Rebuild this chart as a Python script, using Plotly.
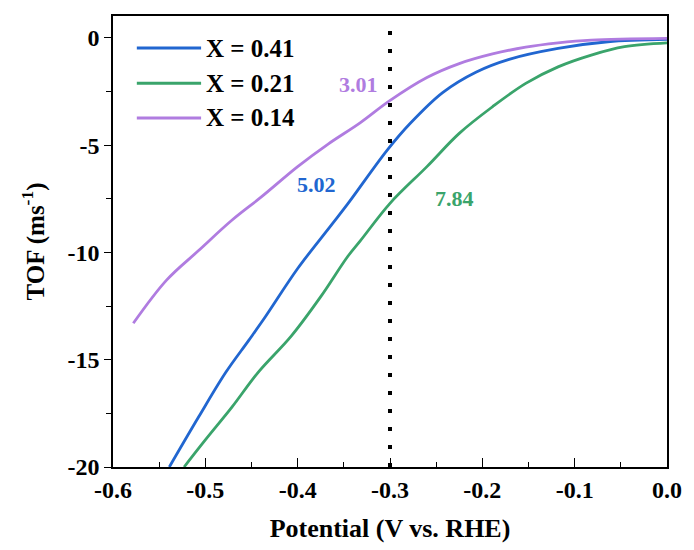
import plotly.graph_objects as go

# Data
x041 = [-0.539, -0.507, -0.478, -0.453, -0.435, -0.40, -0.364, -0.346, -0.303, -0.278, -0.243, -0.207, -0.171, -0.118, -0.064, 0.0]
y041 = [-20.0, -17.65, -15.6, -14.1, -13.0, -10.75, -8.75, -7.75, -5.23, -3.98, -2.55, -1.6, -1.0, -0.49, -0.18, -0.07]

x021 = [-0.523, -0.500, -0.471, -0.443, -0.407, -0.375, -0.346, -0.332, -0.300, -0.260, -0.225, -0.189, -0.153, -0.118, -0.082, -0.046, 0.0]
y021 = [-20.0, -18.74, -17.2, -15.6, -13.9, -12.06, -10.2, -9.45, -7.71, -6.0, -4.45, -3.21, -2.12, -1.35, -0.80, -0.41, -0.23]

x014 = [-0.578, -0.542, -0.507, -0.471, -0.439, -0.40, -0.367, -0.332, -0.301, -0.260, -0.225, -0.189, -0.153, -0.118, -0.082, 0.0]
y014 = [-13.3, -11.29, -9.9, -8.49, -7.4, -6.0, -4.95, -3.95, -2.95, -1.85, -1.2, -0.75, -0.43, -0.23, -0.10, -0.02]

names = ["X = 0.41", "X = 0.21", "X = 0.14"]
colors = ["#2166d0", "#3aa46b", "#b07ce0"]

ref_x = -0.3
ref_vals = ["5.02", "7.84", "3.01"]
ref_label_pos = [(-0.380, -6.85), (-0.230, -7.47), (-0.334, -2.15)]

x_ticks = [-0.6, -0.5, -0.4, -0.3, -0.2, -0.1, 0.0]
x_tick_text = ["-0.6", "-0.5", "-0.4", "-0.3", "-0.2", "-0.1", "0.0"]
y_ticks = [0, -5, -10, -15, -20]
y_tick_text = ["0", "-5", "-10", "-15", "-20"]

FONT = "Liberation Serif"

fig = go.Figure()
series = [(x041, y041), (x021, y021), (x014, y014)]
for (xs, ys), nm, c in zip(series, names, colors):
    fig.add_trace(go.Scatter(x=xs, y=ys, mode="lines", name=nm,
                             line=dict(color=c, width=2.8, shape="spline", smoothing=1.0),
                             showlegend=False))

# vertical dotted reference line
fig.add_trace(go.Scatter(x=[ref_x, ref_x], y=[-20, 0.8], mode="lines",
                         line=dict(color="black", width=4, dash="4px,14px"), showlegend=False))

# value labels
for (lx, ly), v, c in zip(ref_label_pos, ref_vals, colors):
    fig.add_annotation(x=lx, y=ly, text=v, showarrow=False,
                       font=dict(family=FONT, size=22, color=c, weight="bold"))

# manual legend
leg_y = [0.929, 0.851, 0.774]
for ly, nm, c in zip(leg_y, names, colors):
    fig.add_shape(type="line", xref="paper", yref="paper", x0=0.043, x1=0.159, y0=ly, y1=ly,
                  line=dict(color=c, width=3))
    fig.add_annotation(xref="paper", yref="paper", x=0.164, y=ly, text=nm, showarrow=False,
                       xanchor="left", yanchor="middle",
                       font=dict(family=FONT, size=25, color="black", weight="bold"))

fig.update_layout(
    width=694, height=550,
    margin=dict(l=113, r=21, t=16, b=83),
    paper_bgcolor="white", plot_bgcolor="white",
    font=dict(family=FONT, color="black"),
)
fig.update_xaxes(range=[-0.6, 0.0], tickvals=x_ticks, ticktext=x_tick_text,
                 ticks="inside", ticklen=9, tickwidth=1.3, tickcolor="black",
                 minor=dict(dtick=0.05, ticks="inside", ticklen=5, tickwidth=1.2, tickcolor="black"),
                 showline=True, linecolor="black", linewidth=1.5, mirror=True,
                 showgrid=False, zeroline=False,
                 tickfont=dict(family=FONT, size=24, weight="bold"),
                 title=dict(text="Potential (V vs. RHE)", standoff=17,
                            font=dict(family=FONT, size=26, weight="bold")))
fig.update_yaxes(range=[-20, 1.02], tickvals=y_ticks, ticktext=y_tick_text,
                 ticks="outside", ticklen=7, tickwidth=1.3, tickcolor="black",
                 minor=dict(dtick=2.5, ticks="outside", ticklen=5, tickwidth=1.2, tickcolor="black"),
                 showline=True, linecolor="black", linewidth=1.5, mirror=True,
                 showgrid=False, zeroline=False,
                 tickfont=dict(family=FONT, size=24, weight="bold"),
                 title=dict(text="TOF (ms<sup>-1</sup>)", standoff=16,
                            font=dict(family=FONT, size=25, weight="bold")))

fig.write_html("out.html")
